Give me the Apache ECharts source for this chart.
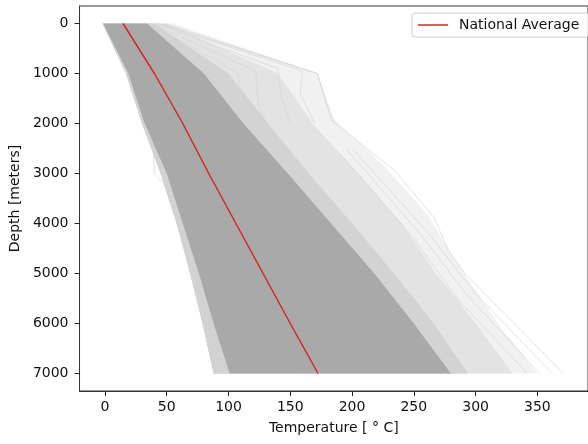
<!DOCTYPE html>
<html lang="en">
<head>
    <meta charset="UTF-8">
    <title>Temperature vs depth</title>
    <script src="https://cdn.jsdelivr.net/npm/echarts@6/dist/echarts.min.js"></script>
    <style>
        body { margin: 0; background: #fff; }
        #chart { width: 588px; height: 444px; }
    </style>
</head>
<body>
<div id="chart"></div>
<script>
    // ticks
    var xTicks = [0, 50, 100, 150, 200, 250, 300, 350];
    var yTicks = [0, 1000, 2000, 3000, 4000, 5000, 6000, 7000];

    // national average profile [temperature, depth]
    var nationalAvg = [[14.6, 0], [40, 1000], [63, 2000], [84, 3000], [106, 4000], [128, 5000], [150, 6000], [172.5, 7000]];

    // envelopes of the well profiles [temperature, depth]
    var coreLeft = [[-1.5, 0], [19, 1000], [32, 2000], [50, 3000], [63, 4000], [76, 5000], [88, 6000], [101, 7000]];
    var coreRight = [[34, 0], [80, 1000], [112, 2000], [148, 3000], [183, 4000], [218, 5000], [250, 6000], [280, 7000]];
    var fringeLeft = [[-2, 0], [17, 1000], [30, 2000], [45, 3000], [58, 4000], [69, 5000], [79, 6000], [88, 7000]];
    var innerRight = [[40, 0], [100, 1000], [132, 2000], [165, 3000], [200, 4000], [234, 5000], [266, 6000], [294, 7000]];
    var midRight = [[50, 0], [140, 1000], [168, 2000], [205, 3000], [240, 4000], [268, 5000], [300, 6000], [330, 7000]];
    var outerRight = [[55, 0], [172, 1000], [185, 1900], [228, 2900], [262, 3850], [280, 4600], [318, 6000], [350, 7000]];

    // single profiles that stand out from the bundle
    var wells = [
        [[48, 0], [172, 1000], [183, 1930], [234, 2930], [266, 3870], [278, 4530], [291, 4990], [371, 7000]],
        [[44, 0], [172, 1000], [178, 1500], [186, 2000]],
        [[42, 0], [160, 950], [158, 1400], [170, 2000]],
        [[40, 0], [140, 900], [143, 1500], [150, 2000]],
        [[38, 0], [122, 950], [124, 1600], [132, 2100]],
        [[37, 0], [108, 1000], [110, 1700], [120, 2200]],
        [[200, 2500], [262, 4200], [300, 5400], [362, 7000]],
        [[195, 2500], [255, 4200], [292, 5400], [352, 7000]],
        [[190, 2600], [250, 4300], [285, 5500], [342, 7000]],
        [[32, 2000], [39, 2400], [40, 3000], [53, 3330], [62, 4000]]
    ];

    var chart = echarts.init(document.getElementById('chart'));
    var font = 'DejaVu Sans';

    function band(left, right, color) {
        var pts = left.concat(right.slice().reverse());
        return {
            type: 'custom',
            silent: true,
            data: pts,
            renderItem: function (params, api) {
                if (params.dataIndex !== 0) return;
                return {
                    type: 'polygon',
                    shape: { points: pts.map(function (p) { return api.coord(p); }) },
                    style: { fill: color }
                };
            }
        };
    }

    var series = [
        band(fringeLeft, outerRight, '#f1f1f1'),
        band(fringeLeft, midRight, '#e3e3e3'),
        band(fringeLeft, innerRight, '#d3d3d3')
    ];
    wells.forEach(function (w) {
        series.push({
            type: 'line', data: w, symbol: 'none', silent: true,
            lineStyle: { color: '#d6d6d6', width: 0.7 }
        });
    });
    series.push(band(fringeLeft, coreLeft, '#d2d2d2'));
    series.push(band(coreLeft, coreRight, '#a9a9a9'));
    series.push({
        name: 'National Average', type: 'line', data: nationalAvg,
        symbol: 'none', z: 5,
        lineStyle: { color: '#d62728', width: 1.5 },
        itemStyle: { color: '#d62728' }
    });

    var option = {
        animation: false,
        grid: { left: 79, top: 6, width: 518, height: 385, show: true, borderColor: '#333', borderWidth: 1 },
        legend: {
            left: 412, top: 13,
            padding: [5, 10, 5, 6],
            icon: 'rect',
            itemWidth: 30, itemHeight: 1.5,
            backgroundColor: 'rgba(255,255,255,0.8)',
            borderColor: '#cccccc', borderWidth: 1, borderRadius: 3,
            textStyle: { fontFamily: font, fontSize: 14, color: '#111', padding: [0, 0, 0, 6] },
            data: ['National Average']
        },
        xAxis: {
            type: 'value', min: -20.6, max: 391,
            name: 'Temperature [ ° C]', nameLocation: 'middle', nameGap: 30,
            nameTextStyle: { fontFamily: font, fontSize: 14, color: '#111' },
            axisLine: { show: true, onZero: false, lineStyle: { color: '#333', width: 1 } },
            splitLine: { show: false },
            axisTick: { show: true, inside: false, length: 5, lineStyle: { color: '#222', width: 1 }, customValues: xTicks },
            axisLabel: { fontFamily: font, fontSize: 14, color: '#111', margin: 9, customValues: xTicks,
                formatter: function (v) { return String(v); } }
        },
        yAxis: {
            type: 'value', inverse: true, min: -350, max: 7350,
            name: 'Depth [meters]', nameLocation: 'middle', nameGap: 50, nameRotate: 90,
            nameTextStyle: { fontFamily: font, fontSize: 14, color: '#111' },
            axisLine: { show: true, onZero: false, lineStyle: { color: '#333', width: 1 } },
            splitLine: { show: false },
            axisTick: { show: true, inside: false, length: 5, lineStyle: { color: '#222', width: 1 }, customValues: yTicks },
            axisLabel: { fontFamily: font, fontSize: 14, color: '#111', margin: 11, customValues: yTicks,
                formatter: function (v) { return String(v); } }
        },
        series: series
    };
    chart.setOption(option);
</script>
</body>
</html>
